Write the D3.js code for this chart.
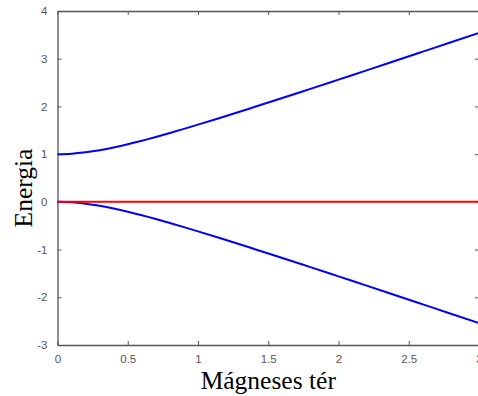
<!DOCTYPE html>
<html><head><meta charset="utf-8">
<script src="https://cdn.jsdelivr.net/npm/d3@7"></script>
<style>
html,body{margin:0;padding:0;background:#fff;overflow:hidden;}
</style></head>
<body>
<svg id="chart" width="478" height="396"></svg>
<script>
// Data
const fieldValues = [0, 0.1, 0.2, 0.3, 0.4, 0.5, 0.6, 0.7, 0.8, 0.9, 1.0, 1.2, 1.4, 1.6, 1.8, 2.0, 2.2, 2.4, 2.6, 2.8, 3.0];
const upperEnergy = [1.0, 1.01, 1.039, 1.083, 1.14, 1.207, 1.281, 1.36, 1.443, 1.53, 1.618, 1.8, 1.987, 2.176, 2.368, 2.562, 2.756, 2.952, 3.148, 3.344, 3.541];
const lowerEnergy = [0.0, -0.01, -0.039, -0.083, -0.14, -0.207, -0.281, -0.36, -0.443, -0.53, -0.618, -0.8, -0.987, -1.176, -1.368, -1.562, -1.756, -1.952, -2.148, -2.344, -2.541];
const zeroEnergy = [0, 0, 0, 0, 0, 0, 0, 0, 0, 0, 0, 0, 0, 0, 0, 0, 0, 0, 0, 0, 0];
const xTicks = [0, 0.5, 1, 1.5, 2, 2.5, 3];
const yTicks = [-3, -2, -1, 0, 1, 2, 3, 4];
const xLabel = "Mágneses tér";
const yLabel = "Energia";

(function(){
const svg = d3.select("#chart");
const mLeft = 57.5, mRight = 479, mTop = 11, mBottom = 345;
const x = d3.scaleLinear().domain([0, 3]).range([mLeft, mRight]);
const y = d3.scaleLinear().domain([-3, 4]).range([mBottom, mTop]);

const axisColor = "#555";
const tickLen = 4;

function styleAxis(g){
  g.select(".domain").attr("stroke", axisColor).attr("stroke-width", 1.3);
  g.selectAll(".tick line").attr("stroke", axisColor).attr("stroke-width", 1);
  g.selectAll(".tick text").attr("fill", "#555")
    .style("font-family", "Liberation Sans, Arial, sans-serif").style("font-size", "11.5px");
}

const fmt = d => String(d);

svg.append("g").attr("transform", `translate(0,${mBottom})`)
  .call(d3.axisBottom(x).tickValues(xTicks).tickFormat(fmt).tickSizeInner(-tickLen).tickSizeOuter(0).tickPadding(10))
  .call(styleAxis);
svg.append("g").attr("transform", `translate(0,${mTop})`)
  .call(d3.axisTop(x).tickValues(xTicks).tickFormat("").tickSizeInner(-tickLen).tickSizeOuter(0))
  .call(styleAxis);
svg.append("g").attr("transform", `translate(${mLeft},0)`)
  .call(d3.axisLeft(y).tickValues(yTicks).tickFormat(fmt).tickSizeInner(-tickLen).tickSizeOuter(0).tickPadding(10))
  .call(styleAxis);
svg.append("g").attr("transform", `translate(${mRight},0)`)
  .call(d3.axisRight(y).tickValues(yTicks).tickFormat("").tickSizeInner(-tickLen).tickSizeOuter(0))
  .call(styleAxis);

const line = d3.line().x(d => x(d[0])).y(d => y(d[1])).curve(d3.curveNatural);

svg.append("path").datum(fieldValues.map((f, i) => [f, upperEnergy[i]]))
  .attr("d", line).attr("fill", "none").attr("stroke", "#0000ff").attr("stroke-width", 2);
svg.append("path").datum(fieldValues.map((f, i) => [f, lowerEnergy[i]]))
  .attr("d", line).attr("fill", "none").attr("stroke", "#0000ff").attr("stroke-width", 2);
svg.append("path").datum(fieldValues.map((f, i) => [f, zeroEnergy[i]]))
  .attr("d", line).attr("fill", "none").attr("stroke", "#ff0000").attr("stroke-width", 2);

svg.append("text").attr("x", (mLeft + mRight) / 2).attr("y", 389)
  .attr("text-anchor", "middle")
  .style("font-family", "Liberation Serif, Times New Roman, serif").style("font-size", "25.5px")
  .attr("fill", "#000").text(xLabel);

svg.append("text").attr("transform", `translate(32,188) rotate(-90)`)
  .attr("text-anchor", "middle")
  .style("font-family", "Liberation Serif, Times New Roman, serif").style("font-size", "25.5px")
  .attr("fill", "#000").text(yLabel);
})();
</script>
</body></html>
